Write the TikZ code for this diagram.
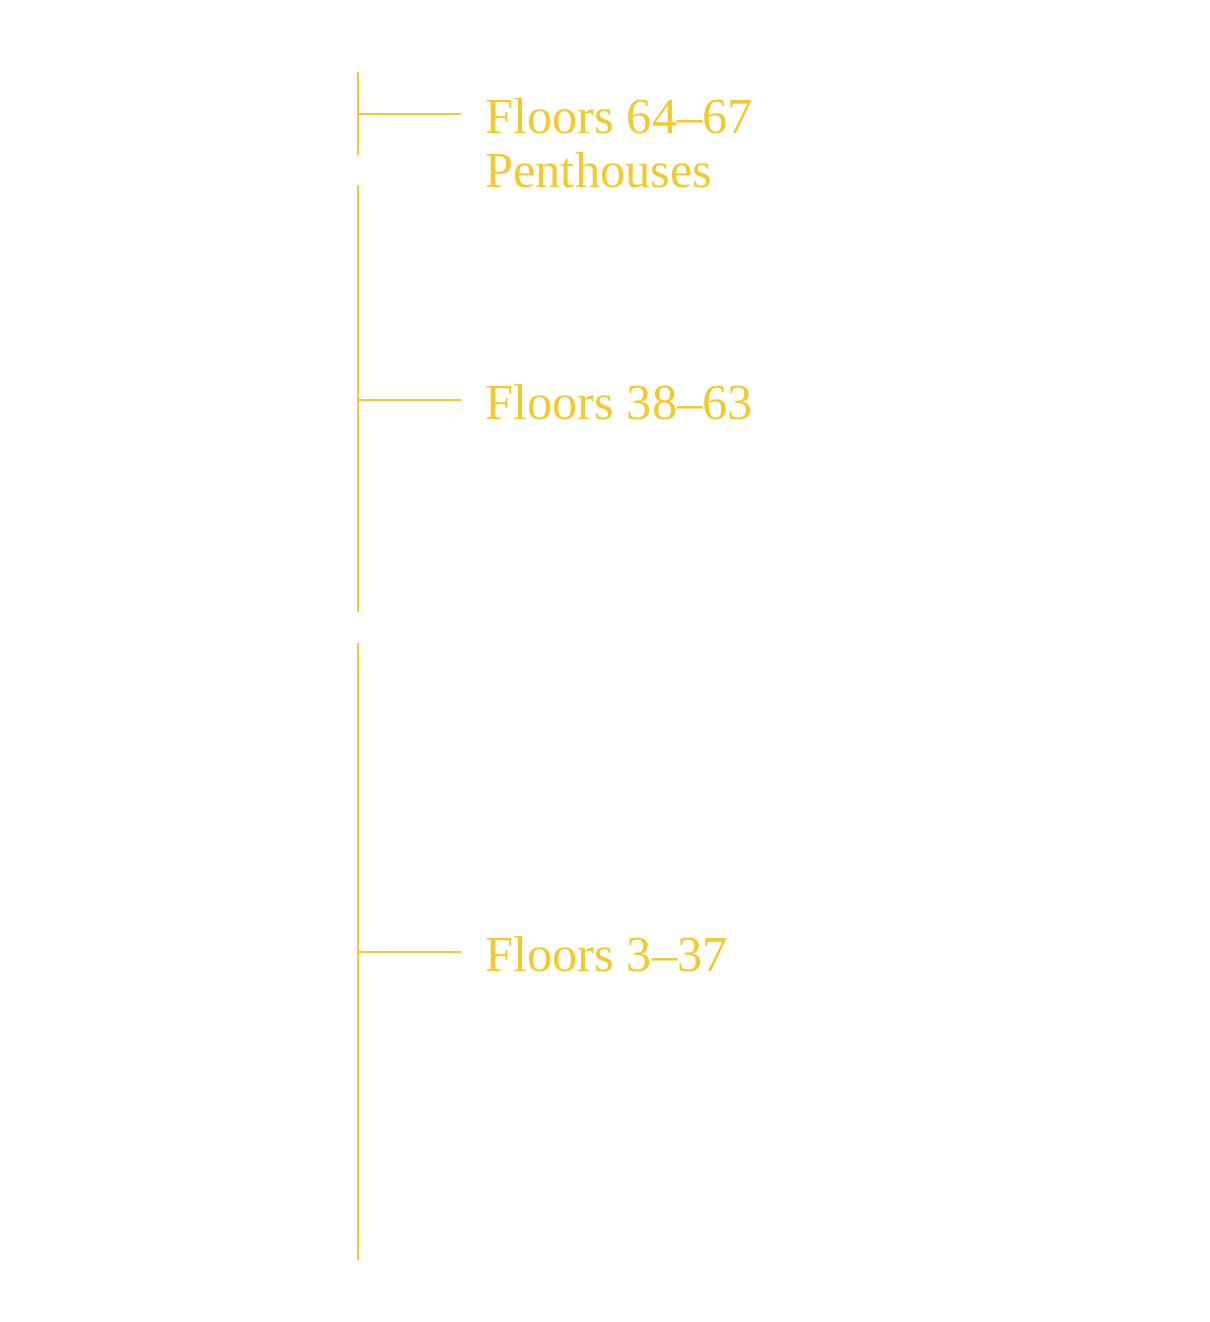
\documentclass[tikz,border=0pt]{standalone}
\usepackage{fontspec}
\setmainfont{Liberation Serif}
\usetikzlibrary{positioning}
\definecolor{gold}{HTML}{F2CA2E}
\tikzset{
  lbl/.style={text=gold, inner sep=0pt, anchor=base west, font=\fontsize{28.7}{35}\selectfont},
  rule/.style={draw=gold, line width=1.3pt}
}
\begin{document}
\begin{tikzpicture}[x=0.02cm, y=-0.02cm]
            \useasboundingbox (0,0) rectangle (1210,1322);
            \coordinate (a1) at (358,72);   \coordinate (a2) at (358,155);
            \coordinate (b1) at (358,185);  \coordinate (b2) at (358,612);
            \coordinate (c1) at (358,643);  \coordinate (c2) at (358,1260);
            \draw[rule] (a1)--(a2) (b1)--(b2) (c1)--(c2);

            \node[lbl] (f64) at (485,133) {Floors 64–67};
            \node[lbl] (pent) at (485,187) {Penthouses};
            \node[lbl] (f38) at (485,419) {Floors 38–63};
            \node[lbl] (f3) at (485,971) {Floors 3–37};

            \coordinate (t64) at ([shift={(-24,-2)}]f64.west);
            \coordinate (t38) at ([shift={(-24,-2)}]f38.west);
            \coordinate (t3) at ([shift={(-24,-2)}]f3.west);
            \draw[rule] (a1 |- t64) -- (t64);
            \draw[rule] (b1 |- t38) -- (t38);
            \draw[rule] (c1 |- t3) -- (t3);
        \end{tikzpicture}
\end{document}
